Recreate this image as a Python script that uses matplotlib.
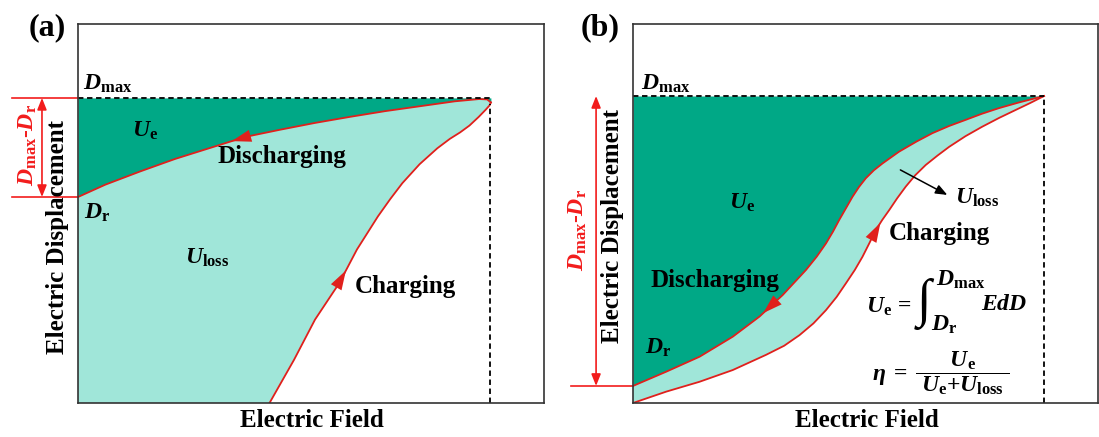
import numpy as np
import matplotlib.pyplot as plt

plt.rcParams['font.family'] = ['Liberation Serif', 'DejaVu Serif']
plt.rcParams['font.weight'] = 'bold'
plt.rcParams['mathtext.fontset'] = 'custom'
plt.rcParams['mathtext.rm'] = 'Liberation Serif:bold'
plt.rcParams['mathtext.it'] = 'Liberation Serif:italic:bold'
plt.rcParams['mathtext.bf'] = 'Liberation Serif:bold'

############################################################
# SCHEMATIC D-E LOOPS (NORMALISED E AND D)
# (a) LOSSY LOOP
a_dmax = 0.805
a_dr = 0.5435
a_emax = 0.884
a_dis_E = [0, 0.0585, 0.1335, 0.2085, 0.2836, 0.3586, 0.4336, 0.5086,
           0.5836, 0.6587, 0.7337, 0.8087, 0.861, 0.878, 0.886]
a_dis_D = [0.5435, 0.576, 0.611, 0.644, 0.673, 0.702, 0.721, 0.739,
           0.755, 0.770, 0.783, 0.796, 0.802, 0.801, 0.793]
a_chg_E = [0.411, 0.4636, 0.5086, 0.561, 0.5986, 0.6437, 0.67, 0.696,
           0.733, 0.771, 0.798, 0.82, 0.84, 0.86, 0.875, 0.883, 0.886]
a_chg_D = [0.0, 0.114, 0.220, 0.317, 0.405, 0.4925, 0.538, 0.580,
           0.630, 0.672, 0.697, 0.714, 0.732, 0.755, 0.774, 0.785, 0.793]

# (b) SLIM LOOP
b_dmax = 0.81
b_dr = 0.045
b_emax = 0.884
b_dis_E = [0, 0.0715, 0.143, 0.2146, 0.272, 0.322, 0.372, 0.395, 0.415,
           0.43, 0.4435, 0.458, 0.472, 0.486, 0.5007, 0.518, 0.5365, 0.572,
           0.61, 0.644, 0.68, 0.7153, 0.75, 0.787, 0.83, 0.884]
b_dis_D = [0.045, 0.0826, 0.122, 0.175, 0.228, 0.285, 0.351, 0.386, 0.421,
           0.452, 0.483, 0.514, 0.544, 0.570, 0.593, 0.614, 0.632, 0.663,
           0.690, 0.712, 0.731, 0.747, 0.763, 0.778, 0.793, 0.81]
b_chg_E = [0, 0.0715, 0.143, 0.2146, 0.286, 0.325, 0.358, 0.388, 0.415,
           0.438, 0.458, 0.477, 0.4936, 0.508, 0.522, 0.536, 0.551, 0.568,
           0.5866, 0.607, 0.6295, 0.655, 0.68, 0.715, 0.751, 0.787, 0.8226,
           0.855, 0.884]
b_chg_D = [0, 0.030, 0.056, 0.087, 0.127, 0.151, 0.179, 0.210, 0.245,
           0.280, 0.316, 0.351, 0.386, 0.421, 0.456, 0.483, 0.509, 0.540,
           0.571, 0.601, 0.628, 0.653, 0.676, 0.704, 0.729, 0.752, 0.773,
           0.792, 0.81]
############################################################

dark = '#00a886'
light = '#a0e6d9'
red_curve = '#e0201c'
red = '#f21c1c'


def curve_arrow(ax, E, D, e_tail, e_tip):
    ax.annotate('', xy=(e_tip, np.interp(e_tip, E, D)),
                xytext=(e_tail, np.interp(e_tail, E, D)),
                arrowprops=dict(arrowstyle='-|>,head_length=0.7,head_width=0.22',
                                color=red_curve, lw=0, mutation_scale=20,
                                shrinkA=0, shrinkB=0))


def setup(ax):
    ax.set_xlim(0, 1)
    ax.set_ylim(0, 1)
    ax.set_xticks([])
    ax.set_yticks([])
    for s in ax.spines.values():
        s.set_linewidth(1.2)
        s.set_color('#333333')
    ax.text(0.502, -0.045, 'Electric Field', transform=ax.transAxes,
            ha='center', va='center', fontsize=18)


fig = plt.figure(figsize=(10.99, 4.37), dpi=100)
ax_a = fig.add_axes([78/1099, 34/437, 466/1099, 379/437])
ax_b = fig.add_axes([633/1099, 34/437, 465/1099, 379/437])

# ---------------- (a) ----------------
ax = ax_a
setup(ax)
ax.fill_between(a_dis_E, a_dis_D, a_dmax, color=dark, lw=0)
ax.fill(np.concatenate(([0], a_dis_E, a_chg_E[::-1])),
        np.concatenate(([0], a_dis_D, a_chg_D[::-1])), color=light, lw=0)
ax.plot(a_dis_E, a_dis_D, c=red_curve, lw=1.3)
ax.plot(a_chg_E, a_chg_D, c=red_curve, lw=1.3)
ax.plot([0, a_emax], [a_dmax, a_dmax], c='k', ls=(0, (3, 2)), lw=1.3)
ax.plot([a_emax, a_emax], [0, 0.79], c='k', ls=(0, (3, 2)), lw=1.3)
curve_arrow(ax, a_dis_E, a_dis_D, 0.37, 0.33)
curve_arrow(ax, a_chg_E, a_chg_D, 0.55, 0.575)

ax.plot([-0.1416, 0], [a_dmax, a_dmax], c=red, lw=1.2, clip_on=False)
ax.plot([-0.1416, 0], [a_dr, a_dr], c=red, lw=1.2, clip_on=False)
ax.annotate('', xy=(-0.0773, a_dmax), xytext=(-0.0773, a_dr),
            arrowprops=dict(arrowstyle='<|-|>,head_length=0.5,head_width=0.2',
                            color=red, lw=1.2, mutation_scale=14,
                            shrinkA=0, shrinkB=0), annotation_clip=False)
ax.text(-0.107, 0.681, r'$D_{\mathrm{max}}$-$D_{\mathrm{r}}$', color=red,
        rotation=90, ha='center', va='center', fontsize=17)
ax.text(-0.045, 0.438, 'Electric Displacement', rotation=90,
        ha='center', va='center', fontsize=18)
ax.text(-0.0665, 0.99, '(a)', ha='center', va='center', fontsize=23,
        transform=ax.transAxes)

ax.text(0.011, 0.826, r'$D_{\mathrm{max}}$', ha='left', va='baseline', fontsize=17)
ax.text(0.144, 0.7177, r'$U_{\mathrm{e}}$', ha='center', va='center', fontsize=17)
ax.text(0.438, 0.6517, 'Discharging', ha='center', va='center', fontsize=18)
ax.text(0.013, 0.501, r'$D_{\mathrm{r}}$', ha='left', va='center', fontsize=17)
ax.text(0.277, 0.3826, r'$U_{\mathrm{loss}}$', ha='center', va='center', fontsize=17)
ax.text(0.7017, 0.3087, 'Charging', ha='center', va='center', fontsize=18)

# ---------------- (b) ----------------
ax = ax_b
setup(ax)
ax.fill_between(b_dis_E, b_dis_D, b_dmax, color=dark, lw=0)
ax.fill(np.concatenate((b_dis_E, b_chg_E[::-1])),
        np.concatenate((b_dis_D, b_chg_D[::-1])), color=light, lw=0)
ax.plot(b_dis_E, b_dis_D, c=red_curve, lw=1.3)
ax.plot(b_chg_E, b_chg_D, c=red_curve, lw=1.3)
ax.plot([0, b_emax], [b_dmax, b_dmax], c='k', ls=(0, (3, 2)), lw=1.3)
ax.plot([b_emax, b_emax], [0, b_dmax], c='k', ls=(0, (3, 2)), lw=1.3)
curve_arrow(ax, b_dis_E, b_dis_D, 0.31, 0.28)
curve_arrow(ax, b_chg_E, b_chg_D, 0.51, 0.532)

ax.plot([-0.133, 0], [b_dr, b_dr], c=red, lw=1.2, clip_on=False)
ax.annotate('', xy=(-0.0794, b_dmax), xytext=(-0.0794, b_dr),
            arrowprops=dict(arrowstyle='<|-|>,head_length=0.5,head_width=0.2',
                            color=red, lw=1.2, mutation_scale=14,
                            shrinkA=0, shrinkB=0), annotation_clip=False)
ax.text(-0.118, 0.456, r'$D_{\mathrm{max}}$-$D_{\mathrm{r}}$', color=red,
        rotation=90, ha='center', va='center', fontsize=17)
ax.text(-0.045, 0.467, 'Electric Displacement', rotation=90,
        ha='center', va='center', fontsize=18)
ax.text(-0.0708, 0.99, '(b)', ha='center', va='center', fontsize=23,
        transform=ax.transAxes)

ax.text(0.017, 0.826, r'$D_{\mathrm{max}}$', ha='left', va='baseline', fontsize=17)
ax.text(0.234, 0.5277, r'$U_{\mathrm{e}}$', ha='center', va='center', fontsize=17)
ax.text(0.176, 0.3245, 'Discharging', ha='center', va='center', fontsize=18)
ax.text(0.0258, 0.145, r'$D_{\mathrm{r}}$', ha='left', va='center', fontsize=17)
ax.annotate('', xy=(0.676, 0.549), xytext=(0.575, 0.615),
            arrowprops=dict(arrowstyle='-|>,head_length=0.5,head_width=0.2',
                            color='k', lw=1.1, mutation_scale=14,
                            shrinkA=0, shrinkB=0))
ax.text(0.74, 0.541, r'$U_{\mathrm{loss}}$', ha='center', va='center', fontsize=17)
ax.text(0.659, 0.4485, 'Charging', ha='center', va='center', fontsize=18)

# stored energy integral
ax.text(0.500, 0.253, r'$U_{\mathrm{e}}\,=$', ha='left', va='center', fontsize=17)
ax.text(0.610, 0.262, '\u222b', ha='left', va='center', fontsize=38,
        family=['Liberation Serif', 'DejaVu Serif'], fontweight='normal')
ax.text(0.652, 0.325, r'$D_{\mathrm{max}}$', ha='left', va='center', fontsize=17)
ax.text(0.640, 0.205, r'$D_{\mathrm{r}}$', ha='left', va='center', fontsize=17)
ax.text(0.748, 0.2586, r'$EdD$', ha='left', va='center', fontsize=17)
# efficiency
ax.text(0.515, 0.079,
        r'$\eta\;=\;\dfrac{U_{\mathrm{e}}}{\;U_{\mathrm{e}}{+}U_{\mathrm{loss}}\;}$',
        ha='left', va='center', fontsize=17)

plt.savefig('out.png', dpi=100)
plt.close()
